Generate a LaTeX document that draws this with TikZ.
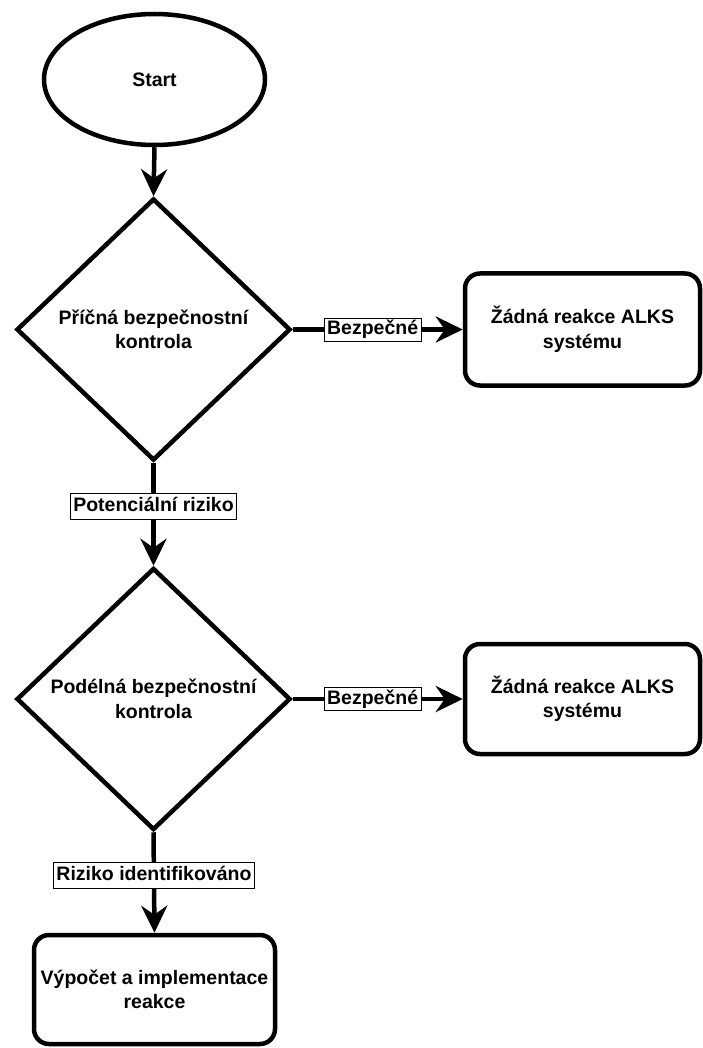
\documentclass[tikz,border=0pt]{standalone}
\usepackage{fontspec}
\setmainfont{Liberation Sans}
\usetikzlibrary{shapes.geometric,arrows.meta}
\begin{document}
\begin{tikzpicture}[x=1pt,y=-1pt,
  every node/.style={font=\fontsize{19.5}{24.5}\selectfont\bfseries},
  base/.style={draw,line width=4.5pt,align=center,inner sep=0pt},
  terminal/.style={base,ellipse,minimum width=221pt,minimum height=131pt},
  decision/.style={base,diamond,minimum width=274pt,minimum height=262pt},
  process/.style={base,rectangle,rounded corners=15pt,minimum width=235pt,minimum height=112pt},
  flow/.style={line width=4.5pt,-{Stealth[length=27pt,width=26pt,inset=9pt]}},
  lbl/.style={draw,line width=1pt,fill=white,inner xsep=3pt,inner ysep=4pt,
    text height=14pt,text depth=4pt},
  lblsmall/.style={lbl,inner ysep=2.5pt}]
  \useasboundingbox (0,0) rectangle (703,1048);

  % nodes
  \node[terminal] (start) at (154.5,79.5) {Start};
  \node[decision] (d1) at (153.5,329.5) {Příčná bezpečnostní\\kontrola};
  \node[process] (n1) at (582.5,329.5) {Žádná reakce ALKS\\systému};
  \node[decision] (d2) at (153.5,699) {Podélná bezpečnostní\\kontrola};
  \node[process,minimum height=110pt] (n2) at (582.5,699) {Žádná reakce ALKS\\systému};
  \node[process,minimum width=241pt,minimum height=109pt] (n3) at (154.5,989.5)
    {Výpočet a implementace\\reakce};

  % connectors
  \draw[flow] (start.south) -- (d1.north);
  \draw[flow] (d1.east) -- node[lblsmall,pos=0.47] {Bezpečné} (n1.west);
  \draw[flow] (d1.south) -- node[lbl,pos=0.42] {Potenciální riziko} (d2.north);
  \draw[flow] (d2.east) -- node[lblsmall,pos=0.47] {Bezpečné} (n2.west);
  \draw[flow] (d2.south) -- node[lbl,pos=0.43] {Riziko identifikováno} (n3.north);
\end{tikzpicture}
\end{document}
